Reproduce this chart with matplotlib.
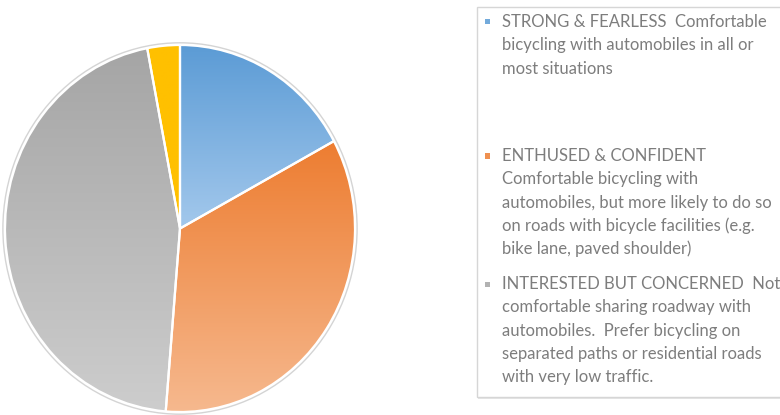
import matplotlib
matplotlib.use("Agg")
import matplotlib.pyplot as plt
import numpy as np
from matplotlib.colors import LinearSegmentedColormap
from matplotlib.patches import Circle, Rectangle

# Cyclist typology shares (percent of population)
categories = ["STRONG & FEARLESS", "ENTHUSED & CONFIDENT",
              "INTERESTED BUT CONCERNED", "NO WAY NO HOW"]
shares = [17.1, 34.2, 45.7, 3.0]

# Vertical gradient per slice: (top colour, bottom colour)
gradients = [("#5b9bd5", "#a3c8ec"),
             ("#ed7d31", "#f6b98f"),
             ("#a5a5a5", "#cdcdcd"),
             ("#ffc000", "#ffc000")]

legend_texts = [
    "STRONG & FEARLESS  Comfortable\nbicycling with automobiles in all or\nmost situations",
    "ENTHUSED & CONFIDENT\nComfortable bicycling with\nautomobiles, but more likely to do so\non roads with bicycle facilities (e.g.\nbike lane, paved shoulder)",
    "INTERESTED BUT CONCERNED  Not\ncomfortable sharing roadway with\nautomobiles.  Prefer bicycling on\nseparated paths or residential roads\nwith very low traffic.",
]

W, H = 780, 415
fig = plt.figure(figsize=(W / 100, H / 100), dpi=100)
fig.patch.set_facecolor("white")

# Pie axes (stretched slightly taller than wide)
ax = fig.add_axes([5 / W, 3 / H, 350 / W, 367 / H])
wedges, _ = ax.pie(shares, startangle=90, counterclock=False, radius=1.0,
                   wedgeprops=dict(edgecolor="white", linewidth=1.6))
ax.set_aspect("auto")

grad = np.linspace(1, 0, 256).reshape(-1, 1)
for w, (c_top, c_bot) in zip(wedges, gradients):
    verts = w.get_path().vertices
    x0, y0 = verts.min(axis=0)
    x1, y1 = verts.max(axis=0)
    cmap = LinearSegmentedColormap.from_list("g", [c_bot, c_top])
    im = ax.imshow(grad, extent=[x0, x1, y0, y1], aspect="auto",
                   cmap=cmap, vmin=0, vmax=1, zorder=1,
                   interpolation="bilinear")
    im.set_clip_path(w)
    w.set_facecolor("none")
    w.set_zorder(2)
    w.set_clip_on(False)

outline = Circle((0, 0), 1.012, facecolor="none", edgecolor="#d4d4d4",
                 linewidth=1.0, zorder=3, clip_on=False)
ax.add_patch(outline)
ax.set_xlim(-1, 1)
ax.set_ylim(-1, 1)
ax.axis("off")

# Legend box
box = Rectangle((477 / W, 1 - 397 / H), 320 / W, (397 - 7) / H,
                transform=fig.transFigure, facecolor="white",
                edgecolor="#d6d6d6", linewidth=1.0, zorder=0)
fig.patches.append(box)
shadow = Rectangle((478 / W, 1 - 399 / H), 320 / W, 2 / H,
                   transform=fig.transFigure, facecolor="#e6e6e6",
                   edgecolor="none", zorder=-1)
fig.patches.append(shadow)

text_color = "#7d7d7d"
entry_tops = [22, 156, 284]
line_step = 23.3
for txt, top, (c_top, c_bot) in zip(legend_texts, entry_tops, gradients):
    fig.patches.append(Rectangle((485 / W, 1 - (top + 2.5) / H), 5 / W, 5 / H,
                                 transform=fig.transFigure,
                                 facecolor=c_top, edgecolor="none", alpha=0.85))
    for i, line in enumerate(txt.split("\n")):
        fig.text(502 / W, 1 - (top + i * line_step) / H, line,
                 ha="left", va="center", fontsize=11.95, family="Lato",
                 color=text_color)

fig.savefig("out.png", dpi=100, facecolor="white")
